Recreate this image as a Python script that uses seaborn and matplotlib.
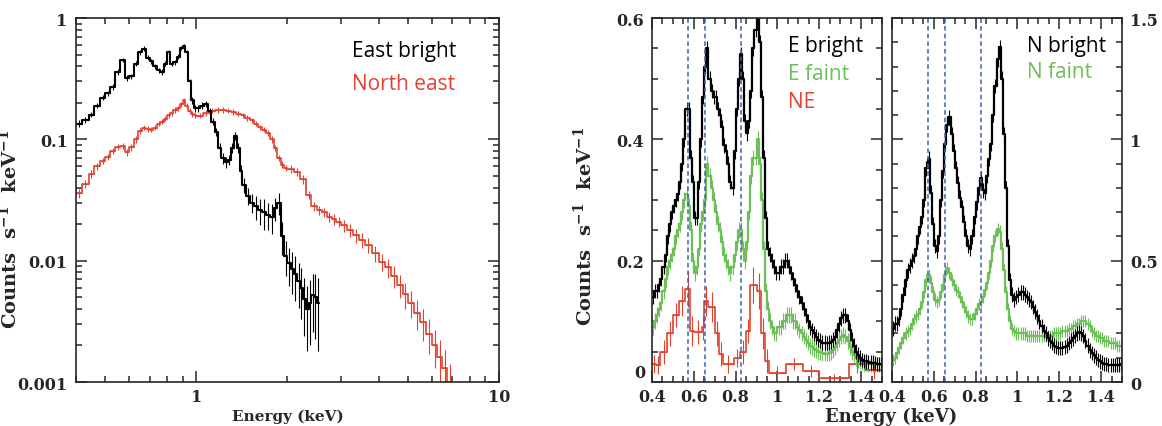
import matplotlib
matplotlib.use("Agg")
import matplotlib.pyplot as plt
import matplotlib.ticker as mticker
import numpy as np
import seaborn as sns

# --- colours ---
BLACK = "black"
RED = "#e4412f"
GREEN = "#6dbf57"
DASH = "#4062a6"

# === Left panel: broad-band spectra (log-log) ===
eb_edges = [0.40, 0.42, 0.44, 0.46, 0.48, 0.50, 0.52, 0.54, 0.56, 0.58,
            0.60, 0.62, 0.64, 0.66, 0.68, 0.70, 0.72, 0.74, 0.76, 0.78,
            0.80, 0.82, 0.84, 0.86, 0.88, 0.90, 0.92, 0.94, 0.96, 0.98,
            1.00, 1.03, 1.06, 1.09, 1.12, 1.15, 1.18, 1.21, 1.24, 1.27,
            1.30, 1.33, 1.36, 1.39, 1.42, 1.46, 1.50,
            1.55, 1.60, 1.65, 1.70, 1.75, 1.80, 1.85, 1.90, 1.95,
            2.00, 2.05, 2.10, 2.15, 2.20, 2.25, 2.30, 2.35, 2.40, 2.45, 2.50, 2.55]
eb_vals = [0.135, 0.145, 0.16, 0.19, 0.22, 0.24, 0.27, 0.36, 0.45, 0.32,
           0.33, 0.42, 0.52, 0.56, 0.47, 0.44, 0.40, 0.37, 0.36, 0.42,
           0.52, 0.42, 0.43, 0.48, 0.57, 0.59, 0.52, 0.30, 0.21, 0.18,
           0.18, 0.19, 0.195, 0.17, 0.14, 0.115, 0.085, 0.070, 0.065, 0.068,
           0.085, 0.107, 0.085, 0.055, 0.042, 0.034, 0.030,
           0.028, 0.026, 0.025, 0.024, 0.023, 0.027, 0.030, 0.016, 0.011,
           0.0095, 0.0085, 0.0078, 0.0068, 0.0060, 0.0048, 0.0040, 0.0045, 0.0052, 0.0050, 0.0045]
eb_relerr = [0.06, 0.06, 0.05, 0.05, 0.05, 0.05, 0.05, 0.05, 0.04, 0.05,
             0.05, 0.05, 0.04, 0.04, 0.05, 0.05, 0.05, 0.05, 0.05, 0.05,
             0.04, 0.05, 0.05, 0.05, 0.04, 0.04, 0.04, 0.05, 0.06, 0.06,
             0.06, 0.06, 0.06, 0.07, 0.07, 0.08, 0.09, 0.10, 0.10, 0.10,
             0.09, 0.08, 0.09, 0.12, 0.14, 0.16, 0.18,
             0.22, 0.25, 0.28, 0.25, 0.28, 0.22, 0.20, 0.30, 0.32,
             0.35, 0.38, 0.40, 0.40, 0.45, 0.50, 0.55, 0.55, 0.50, 0.55, 0.60]

ne_edges = [0.40, 0.42, 0.44, 0.46, 0.48, 0.50, 0.52, 0.54, 0.56, 0.58,
            0.60, 0.62, 0.64, 0.66, 0.68, 0.70, 0.72, 0.74, 0.76, 0.78,
            0.80, 0.82, 0.84, 0.86, 0.88, 0.90, 0.92, 0.94, 0.96, 0.98,
            1.00, 1.05, 1.10, 1.15, 1.20, 1.25, 1.30, 1.35, 1.40, 1.45,
            1.50, 1.55, 1.60, 1.65, 1.70, 1.75, 1.80, 1.85, 1.90, 1.95,
            2.0, 2.1, 2.2, 2.3, 2.4, 2.5, 2.6, 2.7, 2.8, 2.9,
            3.00, 3.15, 3.30, 3.45, 3.60,
            3.80, 4.00, 4.20, 4.40, 4.60, 4.80,
            5.00, 5.25, 5.50, 5.75, 6.00, 6.25, 6.50, 6.75, 7.00]
ne_vals = [0.036, 0.043, 0.052, 0.060, 0.066, 0.072, 0.080, 0.087, 0.088, 0.078,
           0.086, 0.100, 0.118, 0.125, 0.122, 0.120, 0.125, 0.135, 0.140, 0.148,
           0.158, 0.165, 0.175, 0.180, 0.195, 0.210, 0.190, 0.172, 0.162, 0.158,
           0.157, 0.165, 0.172, 0.175, 0.175, 0.172, 0.168, 0.163, 0.158, 0.150,
           0.143, 0.135, 0.126, 0.120, 0.113, 0.100, 0.085, 0.070, 0.062, 0.058,
           0.057, 0.054, 0.047, 0.035, 0.028, 0.026, 0.025, 0.023, 0.022, 0.021,
           0.0195, 0.0178, 0.0162, 0.0148, 0.0135,
           0.0115, 0.0098, 0.0088, 0.0075, 0.0063, 0.0053,
           0.0045, 0.0037, 0.0031, 0.0025, 0.0020, 0.0016, 0.0013, 0.0010]
ne_relerr = [0.08, 0.07, 0.07, 0.07, 0.06, 0.06, 0.06, 0.06, 0.06, 0.07,
             0.06, 0.06, 0.06, 0.05, 0.05, 0.05, 0.05, 0.05, 0.05, 0.05,
             0.05, 0.05, 0.05, 0.05, 0.05, 0.05, 0.05, 0.05, 0.05, 0.05,
             0.05, 0.05, 0.05, 0.05, 0.05, 0.05, 0.05, 0.05, 0.05, 0.05,
             0.05, 0.05, 0.05, 0.05, 0.06, 0.06, 0.06, 0.06, 0.06, 0.06,
             0.07, 0.07, 0.08, 0.08, 0.08, 0.09, 0.09, 0.10, 0.10, 0.10,
             0.12, 0.12, 0.13, 0.14, 0.15,
             0.15, 0.16, 0.18, 0.20, 0.22, 0.24,
             0.25, 0.28, 0.30, 0.32, 0.35, 0.38, 0.40, 0.40]

# === Middle / right panels: soft band, 10 eV channels ===
grid = [0.40, 0.41, 0.42, 0.43, 0.44, 0.45, 0.46, 0.47, 0.48, 0.49,
        0.50, 0.51, 0.52, 0.53, 0.54, 0.55, 0.56, 0.57, 0.58, 0.59,
        0.60, 0.61, 0.62, 0.63, 0.64, 0.65, 0.66, 0.67, 0.68, 0.69,
        0.70, 0.71, 0.72, 0.73, 0.74, 0.75, 0.76, 0.77, 0.78, 0.79,
        0.80, 0.81, 0.82, 0.83, 0.84, 0.85, 0.86, 0.87, 0.88, 0.89,
        0.90, 0.91, 0.92, 0.93, 0.94, 0.95, 0.96, 0.97, 0.98, 0.99,
        1.00, 1.01, 1.02, 1.03, 1.04, 1.05, 1.06, 1.07, 1.08, 1.09,
        1.10, 1.11, 1.12, 1.13, 1.14, 1.15, 1.16, 1.17, 1.18, 1.19,
        1.20, 1.21, 1.22, 1.23, 1.24, 1.25, 1.26, 1.27, 1.28, 1.29,
        1.30, 1.31, 1.32, 1.33, 1.34, 1.35, 1.36, 1.37, 1.38, 1.39,
        1.40, 1.41, 1.42, 1.43, 1.44, 1.45, 1.46, 1.47, 1.48, 1.49, 1.50]

e_bright = [0.14, 0.15, 0.15, 0.16, 0.17, 0.19, 0.21, 0.24, 0.26, 0.28,
            0.29, 0.30, 0.31, 0.33, 0.36, 0.40, 0.45, 0.45, 0.37, 0.33,
            0.27, 0.27, 0.33, 0.40, 0.47, 0.52, 0.55, 0.50, 0.48, 0.47,
            0.47, 0.45, 0.44, 0.42, 0.39, 0.38, 0.36, 0.33, 0.32, 0.38,
            0.45, 0.50, 0.54, 0.50, 0.43, 0.41, 0.43, 0.48, 0.55, 0.58,
            0.60, 0.56, 0.47, 0.37, 0.27, 0.22, 0.21, 0.20, 0.19, 0.18,
            0.18, 0.19, 0.19, 0.20, 0.20, 0.19, 0.18, 0.17, 0.16, 0.15,
            0.14, 0.13, 0.12, 0.11, 0.10, 0.09, 0.085, 0.08, 0.075, 0.07,
            0.068, 0.065, 0.065, 0.064, 0.065, 0.066, 0.07, 0.075, 0.085, 0.095,
            0.105, 0.11, 0.11, 0.10, 0.085, 0.07, 0.06, 0.05, 0.045, 0.04,
            0.036, 0.035, 0.034, 0.033, 0.032, 0.032, 0.031, 0.030, 0.030, 0.029]
e_faint = [0.09, 0.10, 0.11, 0.12, 0.13, 0.15, 0.17, 0.19, 0.20, 0.21,
           0.22, 0.24, 0.25, 0.26, 0.28, 0.30, 0.31, 0.29, 0.25, 0.20,
           0.18, 0.19, 0.22, 0.26, 0.28, 0.30, 0.36, 0.34, 0.32, 0.30,
           0.28, 0.26, 0.25, 0.23, 0.21, 0.20, 0.19, 0.18, 0.19, 0.21,
           0.23, 0.25, 0.25, 0.22, 0.20, 0.23, 0.28, 0.34, 0.37, 0.37,
           0.40, 0.36, 0.30, 0.22, 0.15, 0.12, 0.10, 0.09, 0.08, 0.08,
           0.09, 0.09, 0.10, 0.10, 0.11, 0.11, 0.11, 0.10, 0.10, 0.09,
           0.085, 0.08, 0.075, 0.07, 0.065, 0.06, 0.058, 0.055, 0.052, 0.05,
           0.05, 0.048, 0.047, 0.047, 0.048, 0.05, 0.053, 0.058, 0.064, 0.07,
           0.075, 0.078, 0.075, 0.068, 0.058, 0.05, 0.044, 0.04, 0.036, 0.034,
           0.032, 0.031, 0.031, 0.030, 0.030, 0.030, 0.029, 0.029, 0.029, 0.028]
e_bright_err = 0.012
e_faint_err = 0.013

ne_soft_edges = [0.40, 0.42, 0.44, 0.47, 0.50, 0.53, 0.56, 0.58, 0.60, 0.64,
                 0.65, 0.67, 0.70, 0.72, 0.74, 0.79, 0.82, 0.85, 0.87, 0.90,
                 0.92, 0.94, 0.96, 1.04, 1.12, 1.20, 1.34, 1.42, 1.50]
ne_soft = [0.030, 0.028, 0.050, 0.080, 0.110, 0.133, 0.153, 0.084, 0.082, 0.090,
           0.133, 0.124, 0.080, 0.046, 0.030, 0.040, 0.050, 0.084, 0.160, 0.150,
           0.080, 0.035, 0.015, 0.030, 0.018, 0.006, 0.030, 0.020]
ne_soft_err = [0.015, 0.015, 0.02, 0.02, 0.02, 0.025, 0.03, 0.025, 0.02, 0.02,
               0.025, 0.025, 0.02, 0.02, 0.015, 0.015, 0.02, 0.02, 0.03, 0.03,
               0.025, 0.02, 0.012, 0.01, 0.01, 0.008, 0.015, 0.015]

n_bright = [0.22, 0.24, 0.24, 0.26, 0.30, 0.36, 0.42, 0.46, 0.48, 0.50,
            0.52, 0.55, 0.60, 0.64, 0.68, 0.75, 0.88, 0.92, 0.78, 0.65,
            0.56, 0.54, 0.60, 0.75, 0.87, 0.98, 1.06, 1.09, 1.02, 0.95,
            0.88, 0.82, 0.76, 0.72, 0.66, 0.60, 0.56, 0.55, 0.60, 0.68,
            0.74, 0.80, 0.84, 0.79, 0.78, 0.85, 0.92, 0.98, 1.10, 1.22,
            1.33, 1.38, 1.25, 1.02, 0.80, 0.56, 0.42, 0.36, 0.34, 0.35,
            0.36, 0.37, 0.37, 0.36, 0.35, 0.34, 0.33, 0.31, 0.29, 0.27,
            0.25, 0.23, 0.21, 0.20, 0.18, 0.17, 0.16, 0.15, 0.145, 0.14,
            0.14, 0.14, 0.145, 0.15, 0.16, 0.17, 0.18, 0.19, 0.20, 0.205,
            0.20, 0.19, 0.17, 0.15, 0.13, 0.12, 0.11, 0.10, 0.09, 0.085,
            0.08, 0.075, 0.075, 0.07, 0.07, 0.07, 0.07, 0.07, 0.07, 0.075]
n_faint = [0.09, 0.10, 0.12, 0.14, 0.16, 0.18, 0.20, 0.21, 0.22, 0.24,
           0.26, 0.27, 0.28, 0.30, 0.33, 0.37, 0.42, 0.44, 0.41, 0.37,
           0.34, 0.33, 0.34, 0.37, 0.40, 0.44, 0.47, 0.45, 0.42, 0.40,
           0.38, 0.37, 0.35, 0.33, 0.31, 0.29, 0.27, 0.26, 0.26, 0.28,
           0.30, 0.32, 0.33, 0.35, 0.38, 0.41, 0.45, 0.50, 0.56, 0.60,
           0.63, 0.62, 0.55, 0.46, 0.37, 0.30, 0.25, 0.22, 0.21, 0.20,
           0.20, 0.20, 0.20, 0.20, 0.19, 0.19, 0.19, 0.19, 0.19, 0.19,
           0.19, 0.19, 0.19, 0.19, 0.19, 0.19, 0.19, 0.20, 0.20, 0.20,
           0.20, 0.21, 0.21, 0.21, 0.22, 0.22, 0.23, 0.23, 0.24, 0.24,
           0.25, 0.25, 0.25, 0.24, 0.23, 0.21, 0.20, 0.19, 0.19, 0.18,
           0.18, 0.17, 0.17, 0.17, 0.16, 0.16, 0.16, 0.15, 0.15, 0.15]
n_bright_err = 0.03
n_faint_err = 0.025

line_energies = [0.571, 0.653, 0.825]  # O VII, O VIII, Fe XVII

# --- style ---
sns.set_style("ticks")
plt.rcParams["font.family"] = ["DejaVu Serif"]
plt.rcParams["font.weight"] = "bold"
plt.rcParams["axes.linewidth"] = 1.2
plt.rcParams["mathtext.fontset"] = "custom"
plt.rcParams["mathtext.rm"] = "DejaVu Serif:bold"
plt.rcParams["mathtext.it"] = "DejaVu Serif:bold"
plt.rcParams["mathtext.bf"] = "DejaVu Serif:bold"
TICKFONT = 11.5
LEGFONT = ["Open Sans", "DejaVu Sans"]
YLABEL = r"Counts  s$^{-1}$  keV$^{-1}$"


def draw_spectrum(ax, edges, vals, err, color, lw=1.6, elw=0.8):
    sns.lineplot(x=list(edges), y=list(vals) + [vals[-1]], ax=ax, color=color,
                 lw=lw, drawstyle="steps-post", estimator=None, sort=False)
    e = np.asarray(edges, dtype=float)
    v = np.asarray(vals, dtype=float)
    ax.errorbar((e[:-1] + e[1:]) / 2, v, yerr=err, xerr=(e[1:] - e[:-1]) / 2,
                fmt="none", ecolor=color, elinewidth=elw, capsize=0)


def style_ticks(ax):
    ax.tick_params(which="both", direction="in", top=True, right=True,
                   labelsize=TICKFONT, width=1.1)
    ax.tick_params(which="major", length=8, pad=6)
    ax.tick_params(which="minor", length=4)
    ax.tick_params(axis="x", which="major", pad=4)
    for lab in ax.get_xticklabels() + ax.get_yticklabels():
        lab.set_fontweight("bold")


fig = plt.figure(figsize=(11.62, 4.27), dpi=100)
ax1 = fig.add_axes([0.0654, 0.103, 0.364, 0.8525])
ax2 = fig.add_axes([0.5611, 0.103, 0.198, 0.8525])
ax3 = fig.add_axes([0.7676, 0.103, 0.198, 0.8525])

fmt_g = mticker.FuncFormatter(lambda v, _: f"{v:g}")
fmt_no_zero = mticker.FuncFormatter(lambda v, _: "" if abs(v) < 1e-9 else f"{v:g}")

# Left panel
draw_spectrum(ax1, ne_edges, ne_vals, np.array(ne_relerr) * np.array(ne_vals), RED, lw=1.2)
draw_spectrum(ax1, eb_edges, eb_vals, np.array(eb_relerr) * np.array(eb_vals), BLACK, lw=1.5)
ax1.set_xscale("log")
ax1.set_yscale("log")
ax1.set_xlim(0.4, 10)
ax1.set_ylim(0.001, 1)
ax1.xaxis.set_major_locator(mticker.FixedLocator([1, 10]))
ax1.xaxis.set_minor_locator(mticker.LogLocator(base=10, subs=np.arange(2, 10)))
ax1.xaxis.set_major_formatter(fmt_g)
ax1.xaxis.set_minor_formatter(mticker.NullFormatter())
ax1.yaxis.set_major_locator(mticker.LogLocator(base=10))
ax1.yaxis.set_minor_locator(mticker.LogLocator(base=10, subs=np.arange(2, 10)))
ax1.yaxis.set_major_formatter(fmt_g)
ax1.yaxis.set_minor_formatter(mticker.NullFormatter())
ax1.set_xlabel("Energy (keV)", fontsize=11, fontweight="bold")
ax1.set_ylabel(YLABEL, fontsize=14, fontweight="bold")
ax1.yaxis.set_label_coords(-0.13, 0.423)
ax1.xaxis.set_label_coords(0.5, -0.072)
ax1.text(0.652, 0.896, "East bright", transform=ax1.transAxes, color=BLACK,
         fontsize=15, family=LEGFONT, fontweight="normal")
ax1.text(0.652, 0.805, "North east", transform=ax1.transAxes, color=RED,
         fontsize=15, family=LEGFONT, fontweight="normal")
style_ticks(ax1)

# Middle panel
draw_spectrum(ax2, ne_soft_edges, ne_soft, ne_soft_err, RED, lw=1.2)
draw_spectrum(ax2, grid, e_faint, e_faint_err, GREEN)
draw_spectrum(ax2, grid, e_bright, e_bright_err, BLACK)
for le in line_energies:
    ax2.axvline(le, color=DASH, ls=(0, (3, 2)), lw=1.1)
ax2.set_xlim(0.4, 1.5)
ax2.set_ylim(0, 0.6)
ax2.xaxis.set_major_locator(mticker.MultipleLocator(0.2))
ax2.xaxis.set_minor_locator(mticker.MultipleLocator(0.05))
ax2.yaxis.set_major_locator(mticker.MultipleLocator(0.2))
ax2.yaxis.set_minor_locator(mticker.MultipleLocator(0.05))
ax2.xaxis.set_major_formatter(fmt_g)
ax2.yaxis.set_major_formatter(fmt_no_zero)
ax2.set_ylabel(YLABEL, fontsize=14, fontweight="bold")
ax2.yaxis.set_label_coords(-0.245, 0.43)
ax2.set_xlabel("")
ax2.text(0.59, 0.909, "E bright", transform=ax2.transAxes, color=BLACK,
         fontsize=15, family=LEGFONT, fontweight="normal")
ax2.text(0.59, 0.832, "E faint", transform=ax2.transAxes, color=GREEN,
         fontsize=15, family=LEGFONT, fontweight="normal")
ax2.text(0.59, 0.755, "NE", transform=ax2.transAxes, color=RED,
         fontsize=15, family=LEGFONT, fontweight="normal")
# the "0" label sits just above the corner, clear of the 0.4 label
ax2.text(-0.03, 0.004, "0", transform=ax2.transAxes, ha="right", va="bottom",
         fontsize=TICKFONT, fontweight="bold")
style_ticks(ax2)

# Right panel
draw_spectrum(ax3, grid, n_faint, n_faint_err, GREEN)
draw_spectrum(ax3, grid, n_bright, n_bright_err, BLACK)
for le in line_energies:
    ax3.axvline(le, color=DASH, ls=(0, (3, 2)), lw=1.1)
ax3.set_xlim(0.4, 1.5)
ax3.set_ylim(0, 1.5)
ax3.xaxis.set_major_locator(mticker.MultipleLocator(0.2))
ax3.xaxis.set_minor_locator(mticker.MultipleLocator(0.05))
ax3.yaxis.set_major_locator(mticker.MultipleLocator(0.5))
ax3.yaxis.set_minor_locator(mticker.MultipleLocator(0.1))
ax3.xaxis.set_major_formatter(fmt_g)
ax3.yaxis.set_major_formatter(fmt_g)
ax3.set_xlabel("")
ax3.set_ylabel("")
ax3.text(0.587, 0.909, "N bright", transform=ax3.transAxes, color=BLACK,
         fontsize=15, family=LEGFONT, fontweight="normal")
ax3.text(0.587, 0.838, "N faint", transform=ax3.transAxes, color=GREEN,
         fontsize=15, family=LEGFONT, fontweight="normal")
style_ticks(ax3)
ax3.tick_params(axis="y", labelleft=False, labelright=True)

fig.text(0.767, 0.012, "Energy (keV)", ha="center", va="baseline",
         fontsize=13, fontweight="bold")

fig.savefig("out.png", dpi=100)
